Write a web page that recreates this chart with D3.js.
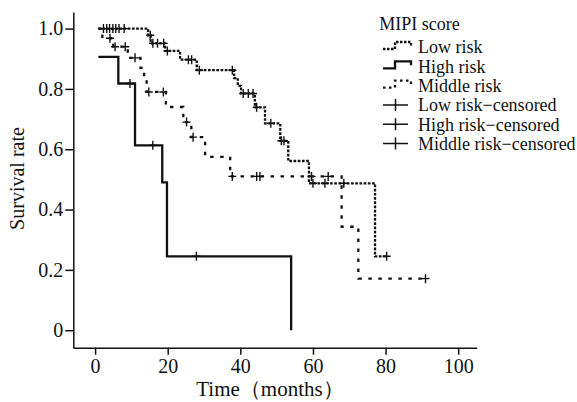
<!DOCTYPE html>
<html>
<head>
<meta charset="utf-8">
<script src="https://cdn.jsdelivr.net/npm/d3@7/dist/d3.min.js"></script>
<style>
  body { margin: 0; background: #fff; }
  text { font-family: "Liberation Serif", "Times New Roman", serif; fill: #111; }
  .axis path, .axis line { stroke: #111; stroke-width: 1.5; }
</style>
</head>
<body>
<div id="chart"></div>
<script>
// DATA
// ------------------------------------------------------------------

// Kaplan-Meier steps: time (months) where the curve takes its value
var lowTimes  = [0.9, 14.6, 15.3, 19.3, 23.4, 28, 38.3, 39.3, 40.2, 44, 46.8, 51, 53.2, 58.9, 77.1, 80.3],
    lowSurv   = [1.0, 0.978, 0.951, 0.926, 0.897, 0.862, 0.836, 0.81, 0.785, 0.739, 0.686, 0.628, 0.561, 0.487, 0.245, 0.245],
    lowCensor = [2.3, 3.2, 4.0, 4.9, 5.7, 6.6, 8.0, 15.2, 15.9, 17.2, 18.9, 19.9, 25.7, 26.6,
                 28.7, 37.8, 40.8, 42.2, 43.5, 44.5, 48.4, 51.3, 52.0, 60.0, 63.3, 68.5, 80.3];

var highTimes  = [0.9, 6.4, 11.0, 18.5, 19.8, 54.0],
    highSurv   = [0.906, 0.818, 0.613, 0.49, 0.245, 0.0],
    highCensor = [9.6, 15.9, 27.9];

var midTimes  = [0.9, 2.0, 5.0, 9.0, 12.5, 13.5, 14.2, 19.5, 24.3, 26.5, 30.3, 37.2, 67.9, 72.5, 91],
    midSurv   = [1.0, 0.968, 0.94, 0.903, 0.87, 0.83, 0.79, 0.74, 0.69, 0.64, 0.575, 0.51, 0.343, 0.171, 0.171],
    midCensor = [4.1, 5.5, 8.3, 11, 14.8, 18.8, 25.2, 27.0, 37.8, 44.5, 45.4, 59.6, 64.2, 91];

var xTicks = [0, 20, 40, 60, 80, 100],
    yTicks = [0, 0.2, 0.4, 0.6, 0.8, 1.0],
    yTickLabels = ["0", "0.2", "0.4", "0.6", "0.8", "1.0"];

var legendTitle = "MIPI score",
    legendLabels = ["Low risk", "High risk", "Middle risk",
                    "Low risk\u2212censored", "High risk\u2212censored", "Middle risk\u2212censored"];

// CANVAS
// ------------------------------------------------------------------

var width = 577,
    height = 402;

var svg = d3.select("#chart")
    .append("svg")
    .attr("width", width)
    .attr("height", height);

// AXES
// ------------------------------------------------------------------

var xScale = d3.scaleLinear()
        .domain([-6, 105.1])
        .range([73.3, 476.7]),
    yScale = d3.scaleLinear()
        .domain([-0.058, 1.055])
        .range([347.7, 12]);

var xAxis = d3.axisBottom(xScale)
        .tickValues(xTicks)
        .tickSizeInner(7)
        .tickSizeOuter(0)
        .tickPadding(4),
    yAxis = d3.axisLeft(yScale)
        .tickValues(yTicks)
        .tickFormat(function(d, i) { return yTickLabels[i]; })
        .tickSizeInner(8)
        .tickSizeOuter(0)
        .tickPadding(2);

svg.append("g")
    .attr("class", "axis")
    .attr("transform", "translate(0,347.7)")
    .call(xAxis)
    .selectAll("text")
    .style("font-size", "20px")
    .style("font-family", "Liberation Serif");

svg.append("g")
    .attr("class", "axis")
    .attr("transform", "translate(73.3,0)")
    .call(yAxis)
    .selectAll("text")
    .style("font-size", "20px")
    .style("font-family", "Liberation Serif");

svg.append("text")
    .attr("transform", "translate(24,178.5) rotate(-90)")
    .style("text-anchor", "middle")
    .style("font-size", "20px")
    .text("Survival rate");

svg.append("text")
    .attr("x", 270)
    .attr("y", 396)
    .style("text-anchor", "middle")
    .style("font-size", "21px")
    .text("Time\uFF08months\uFF09");

// CURVES
// ------------------------------------------------------------------

var stepLine = d3.line()
    .x(function(d) { return xScale(d[0]); })
    .y(function(d) { return yScale(d[1]); })
    .curve(d3.curveStepAfter);

function survAt(times, surv, t) {
  var s = surv[0];
  for (var i = 0; i < times.length; i++) {
    if (times[i] <= t) s = surv[i];
  }
  return s;
}

var groups = [
  { times: lowTimes,  surv: lowSurv,  censor: lowCensor,  dash: "2.7,1.5", w: 2.3 },
  { times: highTimes, surv: highSurv, censor: highCensor, dash: null,      w: 2.3 },
  { times: midTimes,  surv: midSurv,  censor: midCensor,  dash: "3.5,6.5", w: 2.3 }
];

groups.forEach(function(g) {
  svg.append("path")
      .attr("d", stepLine(d3.zip(g.times, g.surv)))
      .attr("fill", "none")
      .attr("stroke", "#111")
      .attr("stroke-width", g.w)
      .attr("stroke-dasharray", g.dash);

  // censor ticks
  g.censor.forEach(function(t) {
    var cx = xScale(t),
        cy = yScale(survAt(g.times, g.surv, t));
    svg.append("path")
        .attr("d", "M" + (cx - 4) + "," + cy + "H" + (cx + 4) +
                   "M" + cx + "," + (cy - 4.5) + "V" + (cy + 4.5))
        .attr("stroke", "#111")
        .attr("stroke-width", 1.4)
        .attr("fill", "none");
  });
});

// LEGEND
// ------------------------------------------------------------------

var legend = svg.append("g");

legend.append("text")
    .attr("x", 379.3)
    .attr("y", 24)
    .attr("dy", "0.35em")
    .style("font-size", "18px")
    .text(legendTitle);

legendLabels.forEach(function(label, i) {
  var ly = 47 + i * 19.3;
  if (i < 3) {
    var g = groups[i];
    legend.append("path")
        .attr("d", "M383," + (ly + 2) + "H395V" + (ly - 5) + "H411V" + (ly - 1))
        .attr("fill", "none")
        .attr("stroke", "#111")
        .attr("stroke-width", g.w)
        .attr("stroke-dasharray", g.dash ? (i === 2 ? "2.5,3.5" : "2.5,1.5") : null);
  } else {
    legend.append("path")
        .attr("d", "M383," + ly + "H408M395.5," + (ly - 6) + "V" + (ly + 6))
        .attr("fill", "none")
        .attr("stroke", "#111")
        .attr("stroke-width", 1.5);
  }
  legend.append("text")
      .attr("x", 418)
      .attr("y", ly)
      .attr("dy", "0.35em")
      .style("font-size", "18px")
      .text(label);
});
</script>
</body>
</html>
